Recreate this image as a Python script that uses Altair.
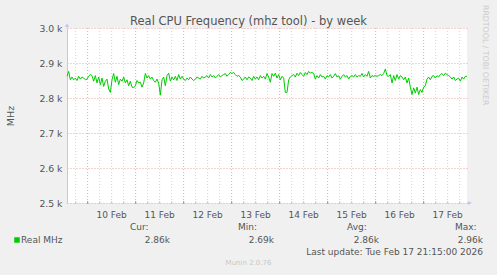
import altair as alt
import pandas as pd

# ---------------- data ----------------
mhz = [
    2862, 2876, 2852, 2860, 2852, 2857, 2850, 2862, 2854, 2860, 2857, 2852, 2854, 2862, 2867, 2864,
    2848, 2864, 2843, 2860, 2838, 2857, 2833, 2848, 2854, 2826, 2816, 2852, 2870, 2845, 2862, 2838,
    2854, 2848, 2860, 2843, 2852, 2835, 2848, 2831, 2829, 2835, 2850, 2843, 2845, 2831, 2843, 2870,
    2857, 2864, 2854, 2860, 2850, 2845, 2854, 2843, 2808, 2852, 2860, 2835, 2864, 2871, 2848, 2860,
    2852, 2862, 2850, 2867, 2854, 2862, 2854, 2850, 2857, 2852, 2860, 2854, 2850, 2854, 2860, 2857,
    2854, 2862, 2857, 2860, 2864, 2857, 2867, 2860, 2864, 2857, 2862, 2867, 2860, 2864, 2867, 2870,
    2862, 2867, 2873, 2870, 2873, 2867, 2862, 2864, 2860, 2850, 2854, 2860, 2852, 2860, 2857,
    # second half
    2850, 2862, 2854, 2860, 2852, 2864, 2857, 2862, 2854, 2870, 2860, 2845, 2870, 2862, 2871, 2857,
    2867, 2852, 2862, 2857, 2816, 2816, 2852, 2860, 2864, 2867, 2860, 2871, 2864, 2873, 2867, 2862,
    2873, 2867, 2876, 2871, 2873, 2870, 2854, 2864, 2857, 2867, 2860, 2862, 2854, 2864, 2860, 2867,
    2857, 2862, 2870, 2860, 2864, 2854, 2862, 2867, 2860, 2864, 2854, 2862, 2864, 2860, 2867, 2860,
    2864, 2862, 2870, 2860, 2867, 2862, 2876, 2857, 2864, 2862, 2864, 2862, 2864, 2867, 2864, 2870,
    2883, 2864, 2862, 2867, 2843, 2864, 2850, 2867, 2854, 2864, 2860, 2852, 2860, 2843, 2857, 2831,
    2810, 2829, 2814, 2831, 2810, 2824, 2816, 2831, 2835, 2854, 2860, 2852, 2862, 2864, 2857, 2864,
    2860, 2867, 2870, 2864, 2871, 2867, 2864, 2860, 2854, 2860, 2850, 2854, 2857, 2848, 2860, 2854,
    2862, 2862,
]
start_time = "2026-02-09 13:40"
step = "50min"

day_lines = ["2026-02-%02dT00:00:00Z" % d for d in range(10, 18)]
six_hour_lines = [
    "2026-02-%02dT%02d:00:00Z" % (d, h)
    for d in range(9, 18) for h in (6, 12, 18)
    if not (d == 9 and h < 18)
]
day_labels = ["2026-02-%02dT12:00:00Z" % d for d in range(10, 18)]
y_ticks = [2500, 2600, 2700, 2800, 2900, 3000]

title_text = "Real CPU Frequency (mhz tool) - by week"
series_name = "Real MHz"
stat_labels = ["Cur:", "Min:", "Avg:", "Max:"]
stat_values = ["2.86k", "2.69k", "2.86k", "2.96k"]
last_update = "Last update: Tue Feb 17 21:15:00 2026"
footer = "Munin 2.0.76"
side_text = "RRDTOOL / TOBI OETIKER"

# ---------------- build ----------------
times = pd.date_range(start_time, periods=len(mhz), freq=step)
df = pd.DataFrame({"t": times.strftime("%Y-%m-%dT%H:%M:%SZ"), "v": mhz})
df_day = pd.DataFrame({"t": day_lines})
df_six = pd.DataFrame({"t": six_hour_lines})
df_lab = pd.DataFrame({"t": day_labels})

W, H = 400, 175
FONT = "DejaVu Sans"
TXT = "#555555"
AXIS = "#C4C4F0"

xscale = alt.Scale(
    type="utc",
    domain=[
        alt.DateTime(year=2026, month=2, date=9, hours=13, minutes=40, utc=True),
        alt.DateTime(year=2026, month=2, date=17, hours=21, minutes=40, utc=True),
    ],
)
yscale = alt.Scale(domain=[2500, 3000])

minor = alt.Chart(df_six).mark_rule(color="#D4D4D4", strokeWidth=1, strokeDash=[1, 2]).encode(
    x=alt.X("t:T", scale=xscale, axis=None)
)
major = alt.Chart(df_day).mark_rule(color="#E8A6A6", strokeWidth=1, strokeDash=[1, 2]).encode(
    x=alt.X("t:T", scale=xscale, axis=None)
)
minor_ticks = alt.Chart(df_six).mark_rule(color="#CCCCCC", strokeWidth=1).encode(
    x=alt.X("t:T", scale=xscale, axis=None), y=alt.value(H - 2), y2=alt.value(H + 1)
)
major_ticks = alt.Chart(df_day).mark_rule(color="#E08080", strokeWidth=1).encode(
    x=alt.X("t:T", scale=xscale, axis=None), y=alt.value(H - 2), y2=alt.value(H + 1)
)
xlabels = alt.Chart(df_lab).transform_calculate(
    lab="utcFormat(toDate(datum.t), '%d %b')"
).mark_text(
    font=FONT, fontSize=9, color=TXT, baseline="alphabetic", align="center"
).encode(
    x=alt.X("t:T", scale=xscale, axis=None),
    y=alt.value(H + 15),
    text="lab:N",
)

line = alt.Chart(df).mark_line(color="#00CC00", strokeWidth=1, interpolate="linear").encode(
    x=alt.X("t:T", scale=xscale, axis=alt.Axis(
        labels=False, ticks=False, grid=False, domain=True, domainColor=AXIS,
        domainWidth=1, title=None)),
    y=alt.Y("v:Q", scale=yscale, axis=alt.Axis(
        values=y_ticks,
        labelExpr="format(datum.value/1000, '.1f') + ' k'",
        labelFont=FONT, labelFontSize=9.3, labelColor=TXT, labelPadding=5,
        ticks=False, grid=True, gridColor="#E8A6A6", gridDash=[1, 2],
        domainColor=AXIS, domainWidth=1,
        title="MHz", titleFont=FONT, titleFontSize=9.5, titleFontWeight="normal",
        titleColor=TXT, titleX=-57, titleY=H / 2, titleAngle=-90,
        titleAlign="center", titleBaseline="middle")),
)

one = alt.Data(values=[{"k": 0}])


def txt(s, x, y, size=9.0, color=TXT, align="left", baseline="middle", angle=0):
    return alt.Chart(one).mark_text(
        text=s, font=FONT, fontSize=size, color=color, align=align,
        baseline=baseline, angle=angle,
    ).encode(x=alt.value(x), y=alt.value(y))


arrow_up = alt.Chart(one).mark_point(shape="triangle-up", filled=True, color=AXIS, size=18, opacity=1).encode(
    x=alt.value(0), y=alt.value(-3))
arrow_right = alt.Chart(one).mark_point(shape="triangle-right", filled=True, color=AXIS, size=18, opacity=1).encode(
    x=alt.value(W + 3), y=alt.value(H))
extend_x = alt.Chart(one).mark_rule(color=AXIS, strokeWidth=1).encode(
    x=alt.value(W), x2=alt.value(W + 3), y=alt.value(H))
extend_y = alt.Chart(one).mark_rule(color=AXIS, strokeWidth=1).encode(
    x=alt.value(0), y=alt.value(-3), y2=alt.value(0))

legend_sq = alt.Chart(one).mark_square(color="#00CC00", size=30, opacity=1).encode(
    x=alt.value(-50), y=alt.value(212))

stat_x_lab = [63, 171, 280, 388]
stat_x_val = [103, 207, 312, 416]
layers = [minor, major, minor_ticks, major_ticks, line, xlabels,
          extend_x, extend_y, arrow_up, arrow_right, legend_sq,
          txt(title_text, 181.5, -3, size=11.5, baseline="alphabetic", align="center"),
          txt(series_name, -46, 212),
          txt(last_update, 416, 223.5, align="right"),
          txt(footer, 181.5, 235, size=7, color="#C8C8C8", align="center"),
          txt(side_text, 418, -23, size=7.8, color="#CCCCCC", angle=90)]
for i in range(4):
    layers.append(txt(stat_labels[i], stat_x_lab[i], 199))
    layers.append(txt(stat_values[i], stat_x_val[i], 212, align="right"))

chart = alt.layer(*layers).properties(
    width=W, height=H,
    autosize=alt.AutoSizeParams(type="none"),
    padding={"left": 67, "top": 28, "right": 30, "bottom": 72},
    background="#F0F0F0",
).configure_view(fill="white", stroke=None)

chart.save("out.html", embed_options={"renderer": "svg", "actions": False})
